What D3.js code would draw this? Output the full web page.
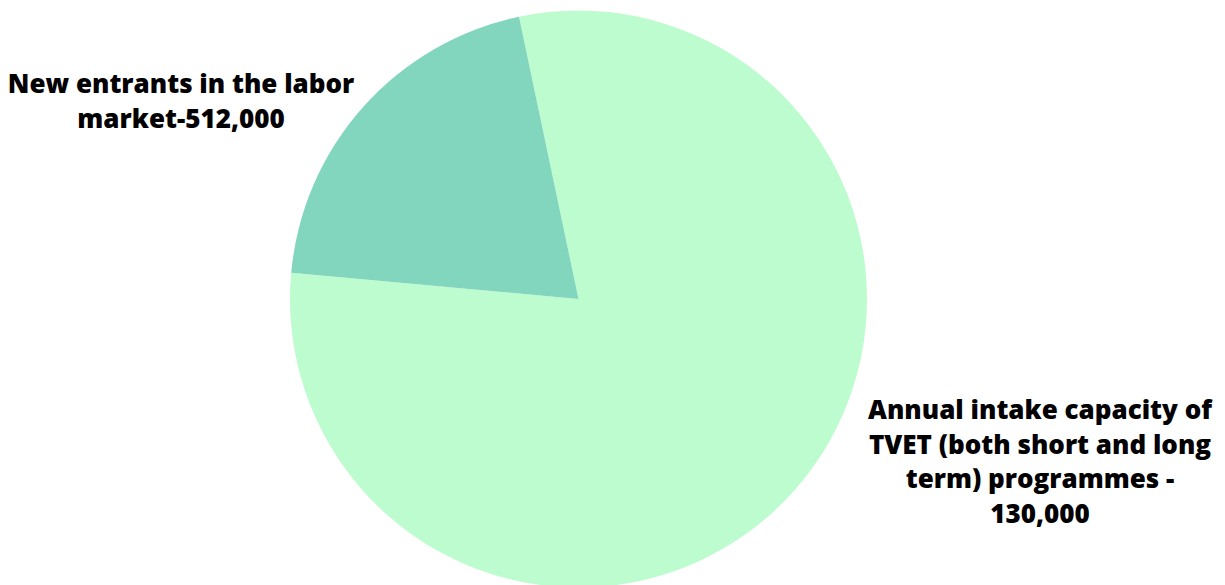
<!DOCTYPE html>
<html><head><meta charset="utf-8">
<script src="https://cdn.jsdelivr.net/npm/d3@7"></script>
<style>body{margin:0;background:#fff}svg{display:block}</style>
</head><body>
<svg id="c" width="1225" height="585"></svg>
<script>
const categories = ["Annual intake capacity of TVET (both short and long term) programmes", "New entrants in the labor market"];
const values = [512000, 130000];
const colors = ["#BDFCCE", "#82D6BE"];
const labelLines = [
  ["New entrants in the labor", "market-512,000"],
  ["Annual intake capacity of", "TVET (both short and long", "term) programmes -", "130,000"]
];

const svg = d3.select("#c");
const cx = 578.5, cy = 299, r = 288.5;
const start = -11.9 * Math.PI / 180;
const pie = d3.pie().sort(null).startAngle(start).endAngle(start + 2 * Math.PI);
const arc = d3.arc().innerRadius(0).outerRadius(r);
const g = svg.append("g").attr("transform", `translate(${cx},${cy})`);
g.selectAll("path").data(pie(values)).join("path")
  .attr("d", arc).attr("fill", (d, i) => colors[i]);

const labelPos = [{x: 181, y: 93}, {x: 1040, y: 419}];
const lh = 34.5;
labelLines.forEach((lines, i) => {
  const t = svg.append("text")
    .attr("text-anchor", "middle")
    .attr("font-family", "'Open Sans', sans-serif")
    .attr("font-weight", 800)
    .attr("font-size", 26)
    .attr("fill", "#000");
  lines.forEach((l, j) => t.append("tspan").attr("x", labelPos[i].x).attr("y", labelPos[i].y + j * lh).text(l));
});
</script>
</body></html>
